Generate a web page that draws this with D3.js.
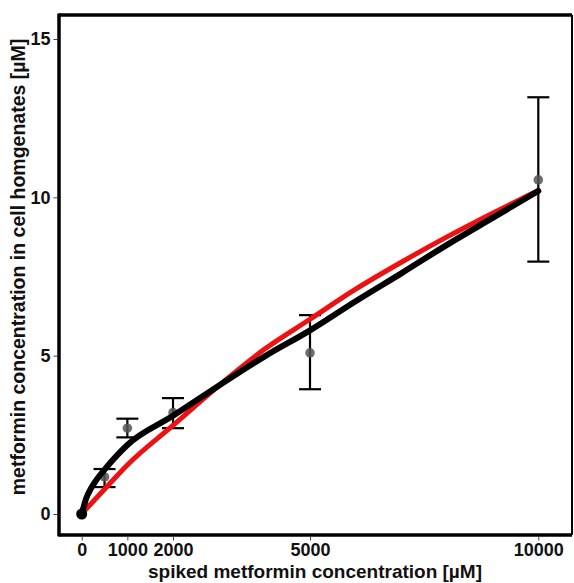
<!DOCTYPE html>
<html>
<head>
<meta charset="utf-8">
<script src="https://cdn.jsdelivr.net/npm/d3@7"></script>
<style>
  html, body { margin: 0; padding: 0; background: #fff; }
  svg { display: block; }
  text { font-family: "Liberation Sans", Arial, sans-serif; font-weight: bold; }
</style>
</head>
<body>
<svg id="chart" width="574" height="583"></svg>
<script>
// ---- data ----
const spiked = [0, 500, 1000, 2000, 5000, 10000];
const measured = [0, 1.17, 2.71, 3.2, 5.09, 10.55];
const errLow = [0, 0.85, 2.42, 2.71, 3.94, 7.97];
const errHigh = [0, 1.42, 3.01, 3.66, 6.28, 13.16];

const blackFitX = [0, 100, 200, 300, 500, 1000, 2000, 3000, 4000, 5000, 6000, 7000, 8000, 9000, 10000];
const blackFitY = [0, 0.5, 0.8, 1.03, 1.4, 2.18, 3.1, 4.05, 4.97, 5.8, 6.72, 7.6, 8.5, 9.35, 10.2];

const redFitX = [60, 500, 1000, 2000, 3000, 4000, 5000, 6000, 7000, 8000, 9000, 10000];
const redFitY = [0.1, 0.78, 1.55, 2.8, 4.05, 5.2, 6.15, 7.1, 7.95, 8.75, 9.5, 10.22];

const xTicks = [0, 1000, 2000, 5000, 10000];
const yTicks = [0, 5, 10, 15];

const xLabel = "spiked metformin concentration [µM]";
const yLabel = "metformin concentration in cell homgenates [µM]";

// ---- layout ----
const svg = d3.select("#chart");
const panel = { left: 59, right: 572, top: 15, bottom: 535 };

const x = d3.scaleLinear().domain([0, 10000]).range([81.7, 538.3]);
const y = d3.scaleLinear().domain([0, 15]).range([514, 39]);

// error bars
const capHalf = 11;
spiked.forEach((s, i) => {
  if (errHigh[i] === errLow[i]) return;
  const g = svg.append("g").attr("stroke", "#000").attr("stroke-width", 2.2);
  g.append("line").attr("x1", x(s)).attr("x2", x(s)).attr("y1", y(errLow[i])).attr("y2", y(errHigh[i]));
  g.append("line").attr("x1", x(s) - capHalf).attr("x2", x(s) + capHalf).attr("y1", y(errLow[i])).attr("y2", y(errLow[i]));
  g.append("line").attr("x1", x(s) - capHalf).attr("x2", x(s) + capHalf).attr("y1", y(errHigh[i])).attr("y2", y(errHigh[i]));
});

// points
svg.selectAll("circle.pt").data(spiked).enter().append("circle")
  .attr("class", "pt")
  .attr("cx", d => x(d)).attr("cy", (d, i) => y(measured[i]))
  .attr("r", 4.8)
  .attr("fill", "#555")
  .attr("fill-opacity", 0.85);

// fitted curves
const line = d3.line().x(d => x(d[0])).y(d => y(d[1])).curve(d3.curveMonotoneX);

svg.append("path")
  .attr("d", line(redFitX.map((v, i) => [v, redFitY[i]])))
  .attr("fill", "none").attr("stroke", "#ee1111").attr("stroke-width", 5)
  .attr("stroke-linecap", "round");

svg.append("path")
  .attr("d", line(blackFitX.map((v, i) => [v, blackFitY[i]])))
  .attr("fill", "none").attr("stroke", "#000").attr("stroke-width", 6)
  .attr("stroke-linecap", "round").attr("stroke-linejoin", "round");

svg.append("circle").attr("cx", x(spiked[0])).attr("cy", y(measured[0])).attr("r", 5.5).attr("fill", "#000");

// panel border
const b = svg.append("g").attr("stroke", "#000");
b.append("line").attr("x1", panel.left).attr("x2", panel.left).attr("y1", panel.top - 1.5).attr("y2", panel.bottom + 1.5).attr("stroke-width", 3.5);
b.append("line").attr("x1", panel.left).attr("x2", panel.right).attr("y1", panel.top).attr("y2", panel.top).attr("stroke-width", 3.5);
b.append("line").attr("x1", panel.left).attr("x2", panel.right).attr("y1", panel.bottom).attr("y2", panel.bottom).attr("stroke-width", 3.5);
b.append("line").attr("x1", panel.right).attr("x2", panel.right).attr("y1", panel.top).attr("y2", panel.bottom).attr("stroke-width", 2);

// axes
const xAxis = d3.axisBottom(x).tickValues(xTicks).tickFormat(d3.format("d")).tickSize(4).tickPadding(3);
const gx = svg.append("g").attr("transform", `translate(0,${panel.bottom + 1.5})`).call(xAxis);
gx.select(".domain").remove();
gx.selectAll(".tick line").attr("stroke", "#444").attr("stroke-width", 1);
gx.selectAll(".tick text").attr("fill", "#111").style("font-size", "18px").style("font-weight", "bold")
  .style("font-family", "'Liberation Sans', Arial, sans-serif");

const yAxis = d3.axisLeft(y).tickValues(yTicks).tickFormat(d3.format("d")).tickSize(4).tickPadding(3);
const gy = svg.append("g").attr("transform", `translate(${panel.left - 1.5},0)`).call(yAxis);
gy.select(".domain").remove();
gy.selectAll(".tick line").attr("stroke", "#444").attr("stroke-width", 1);
gy.selectAll(".tick text").attr("fill", "#111").style("font-size", "18px").style("font-weight", "bold")
  .style("font-family", "'Liberation Sans', Arial, sans-serif");

// axis titles
svg.append("text").attr("x", 315).attr("y", 578).attr("text-anchor", "middle")
  .attr("fill", "#111").style("font-size", "19px").text(xLabel);

svg.append("text").attr("transform", "translate(25,267) rotate(-90)").attr("text-anchor", "middle")
  .attr("fill", "#111").style("font-size", "19.5px").text(yLabel);
</script>
</body>
</html>
